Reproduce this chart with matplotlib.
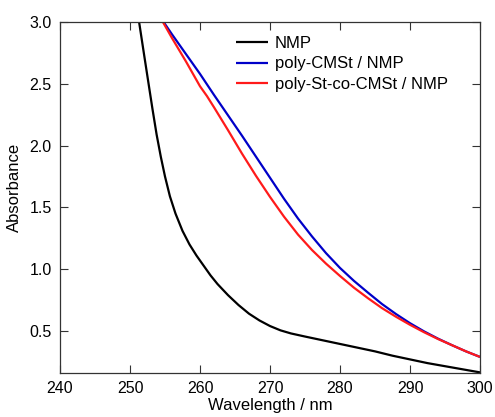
import numpy as np
import matplotlib.pyplot as plt

plt.rcParams['font.family'] = ['Liberation Sans', 'DejaVu Sans']

# wavelength (nm) / absorbance
wl_nmp = [251.3, 252.0, 252.6, 253.2, 253.8, 254.4, 255.0, 255.7, 256.5, 257.5, 258.5,
          259.5, 260.5, 261.5, 262.5, 264.0, 265.5, 267.0, 268.5, 270.0, 271.5,
          273.0, 275.0, 277.5, 280.0, 282.5, 285.0, 287.5, 290.0, 292.5, 295.0,
          297.5, 300.0]
abs_nmp = [3.00, 2.74, 2.52, 2.30, 2.09, 1.91, 1.75, 1.59, 1.45, 1.31, 1.20,
           1.11, 1.03, 0.95, 0.88, 0.79, 0.71, 0.64, 0.585, 0.54, 0.505,
           0.48, 0.455, 0.425, 0.395, 0.365, 0.335, 0.30, 0.27, 0.24, 0.215,
           0.19, 0.165]

wl_cmst = [254.8, 256.0, 258.0, 260.0, 262.0, 264.0, 266.0, 268.0, 270.0, 272.0, 274.0,
           276.0, 278.0, 280.0, 282.0, 284.0, 286.0, 288.0, 290.0, 292.0, 294.0,
           296.0, 298.0, 300.0]
abs_cmst = [3.00, 2.90, 2.74, 2.58, 2.41, 2.245, 2.08, 1.91, 1.74, 1.57, 1.41,
            1.265, 1.13, 1.01, 0.905, 0.81, 0.718, 0.637, 0.563, 0.497, 0.438,
            0.385, 0.335, 0.29]

wl_co = [254.7, 256.0, 258.0, 260.0, 261.0, 262.0, 264.0, 266.0, 268.0, 270.0, 272.0,
         274.0, 276.0, 278.0, 280.0, 282.0, 284.0, 286.0, 288.0, 290.0, 292.0,
         294.0, 296.0, 298.0, 300.0]
abs_co = [3.00, 2.87, 2.68, 2.48, 2.40, 2.31, 2.125, 1.935, 1.755, 1.585, 1.425,
          1.28, 1.155, 1.045, 0.945, 0.85, 0.765, 0.685, 0.615, 0.55, 0.49,
          0.435, 0.385, 0.335, 0.29]

labels = ["NMP", "poly-CMSt / NMP", "poly-St-co-CMSt / NMP"]
colors = ["black", "#0000c8", "#ff1a1a"]


def main():
    fig = plt.figure(figsize=(4.95, 4.17), dpi=100)
    ax = fig.add_axes([60/495, 44/417, 420/495, 351/417])

    series = [(wl_nmp, abs_nmp), (wl_cmst, abs_cmst), (wl_co, abs_co)]
    for (x, y), lab, c in zip(series, labels, colors):
        ax.plot(x, y, color=c, lw=1.6, label=lab, solid_capstyle='butt')

    ax.set_xlim(240, 300)
    ax.set_ylim(0.16, 3.0)
    ax.set_xticks(np.arange(240, 301, 10))
    ax.set_yticks(np.arange(0.5, 3.01, 0.5))
    ax.yaxis.set_major_formatter(plt.FormatStrFormatter('%.1f'))
    ax.tick_params(direction='in', top=True, right=True, length=6, width=0.8,
                   labelsize=11.5, color='#333333', pad=6)
    for s in ax.spines.values():
        s.set_linewidth(0.9)
        s.set_color('#333333')

    ax.set_xlabel("Wavelength / nm", fontsize=12)
    ax.set_ylabel("Absorbance", fontsize=12)
    ax.xaxis.set_label_coords(0.5, -0.07)
    ax.yaxis.set_label_coords(-0.09, 0.53)

    ax.legend(loc='upper left', bbox_to_anchor=(168/420, 0.985), frameon=False,
              fontsize=12, borderpad=0, handlelength=1.9, handletextpad=0.4,
              labelspacing=0.35)

    plt.savefig("out.png", dpi=100)


if __name__ == "__main__":
    main()
